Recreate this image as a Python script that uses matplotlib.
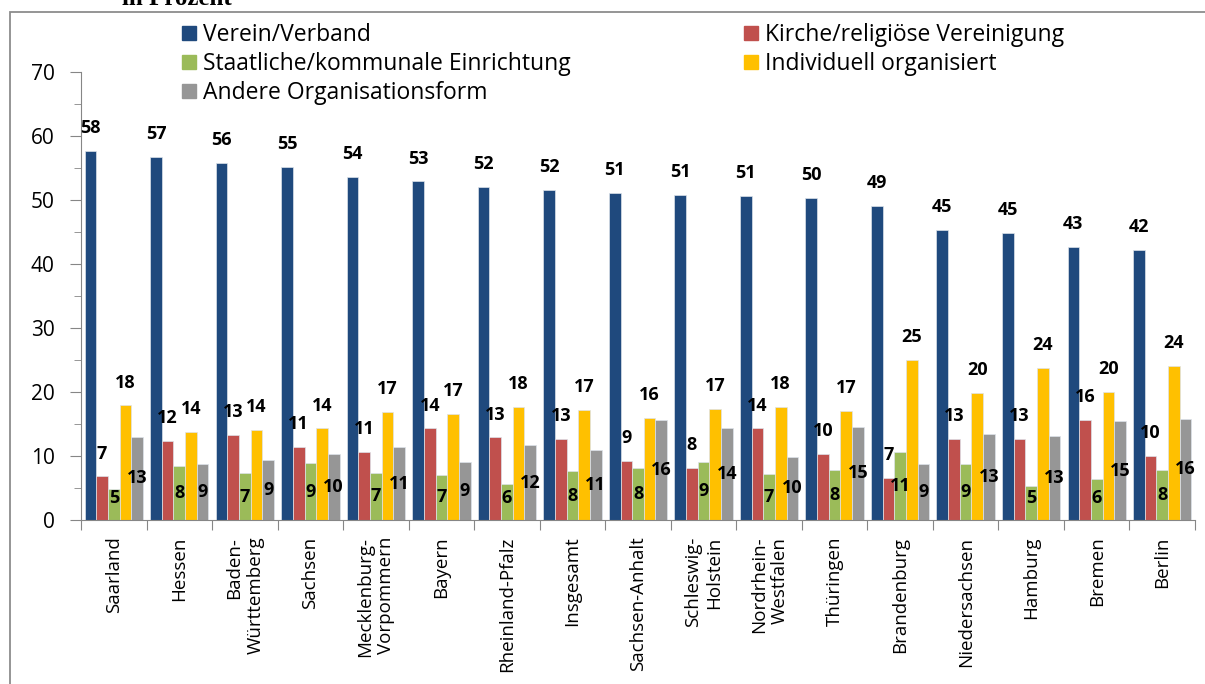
import matplotlib
matplotlib.use("Agg")
import matplotlib.pyplot as plt
import numpy as np
from matplotlib.patches import Rectangle, Patch

# === DATA ===
laender = ["Saarland", "Hessen", "Baden-\nWürttemberg", "Sachsen", "Mecklenburg-\nVorpommern",
           "Bayern", "Rheinland-Pfalz", "Insgesamt", "Sachsen-Anhalt", "Schleswig-\nHolstein",
           "Nordrhein-\nWestfalen", "Thüringen", "Brandenburg", "Niedersachsen", "Hamburg",
           "Bremen", "Berlin"]

verein = [57.6, 56.7, 55.8, 55.1, 53.6, 52.9, 52.0, 51.6, 51.1, 50.8, 50.7, 50.3, 49.0, 45.3, 44.9, 42.6, 42.2]
kirche = [6.8, 12.3, 13.3, 11.4, 10.6, 14.3, 12.9, 12.6, 9.2, 8.2, 14.3, 10.3, 6.6, 12.7, 12.6, 15.6, 10.0]
staatlich = [4.9, 8.4, 7.3, 8.9, 7.4, 7.1, 5.6, 7.6, 8.1, 9.1, 7.2, 7.8, 10.7, 8.7, 5.3, 6.4, 7.8]
individuell = [17.9, 13.8, 14.1, 14.3, 16.9, 16.6, 17.7, 17.2, 16.0, 17.3, 17.7, 17.1, 25.0, 19.8, 23.8, 20.0, 24.1]
andere = [13.0, 8.7, 9.3, 10.3, 11.4, 9.1, 11.7, 10.9, 15.6, 14.4, 9.9, 14.6, 8.7, 13.4, 13.2, 15.4, 15.8]

serien = ["Verein/Verband", "Kirche/religiöse Vereinigung", "Staatliche/kommunale Einrichtung",
          "Individuell organisiert", "Andere Organisationsform"]
farben = ["#1F497D", "#C0504D", "#9BBB59", "#FFC000", "#969696"]

plt.rcParams['font.family'] = ['Open Sans', 'DejaVu Sans']

fig = plt.figure(figsize=(12.05, 6.84), dpi=100)
W, H = 1205, 684
ax = fig.add_axes([81 / W, (H - 520) / H, (1195 - 81) / W, (520 - 72) / H])

x = np.arange(len(laender))
w = 0.178
werte = [verein, kirche, staatlich, individuell, andere]
for k, (vals, col) in enumerate(zip(werte, farben)):
    ax.bar(x + (k - 2) * w, vals, width=w, color=col, edgecolor="#dde3ea", linewidth=0.5)
    for xi, v in zip(x + (k - 2) * w, vals):
        if k in (0, 1, 3):
            # outside end labels
            ax.annotate(f"{v:.0f}", (xi, v), xytext=(0, 16.5), textcoords="offset points",
                        ha="center", va="center", fontsize=13, fontweight="bold")
        else:
            ax.text(xi, max(v / 2, 3.5), f"{v:.0f}", ha="center", va="center",
                    fontsize=13, fontweight="bold")

ax.set_xlim(-0.5, len(laender) - 0.5)
ax.set_ylim(0, 70)
ax.set_yticks(np.arange(0, 71, 10))
ax.set_yticks(np.arange(5, 70, 10), minor=True)
ax.tick_params(axis="y", which="major", length=8, color="#868686", labelsize=15, pad=11)
ax.tick_params(axis="y", which="minor", length=5, color="#868686")
ax.set_xticks(np.arange(-0.5, len(laender), 1))
ax.tick_params(axis="x", which="major", length=7, color="#868686", labelbottom=False)
for i, name in enumerate(laender):
    ax.text(i, -2.6, name, rotation=90, ha="center", va="top", multialignment="right",
            fontsize=13.5)
for s in ["top", "right"]:
    ax.spines[s].set_visible(False)
for s in ["left", "bottom"]:
    ax.spines[s].set_color("#868686")

# legend in two blocks, like the original
h = [Patch(color=c) for c in farben]
opts = dict(loc="upper left", frameon=False, fontsize=16.5, handlelength=0.6, handleheight=0.6,
            handletextpad=0.3, labelspacing=0.22, borderpad=0, borderaxespad=0)
fig.legend([h[0], h[2], h[4]], [serien[0], serien[2], serien[4]],
           bbox_to_anchor=(182 / W, 1 - 23 / H), **opts)
fig.legend([h[1], h[3]], [serien[1], serien[3]],
           bbox_to_anchor=(744 / W, 1 - 23 / H), **opts)

fig.text(122 / W, 1 - 5 / H, "in Prozent", family="Liberation Serif", fontweight="bold",
         fontsize=18, va="baseline")
fig.add_artist(Rectangle((10 / W, -0.1), 1.2, 1 - 12 / H + 0.1, transform=fig.transFigure,
                         fill=False, edgecolor="#8c8c8c", linewidth=1.3))

fig.savefig("out.png", dpi=100)
